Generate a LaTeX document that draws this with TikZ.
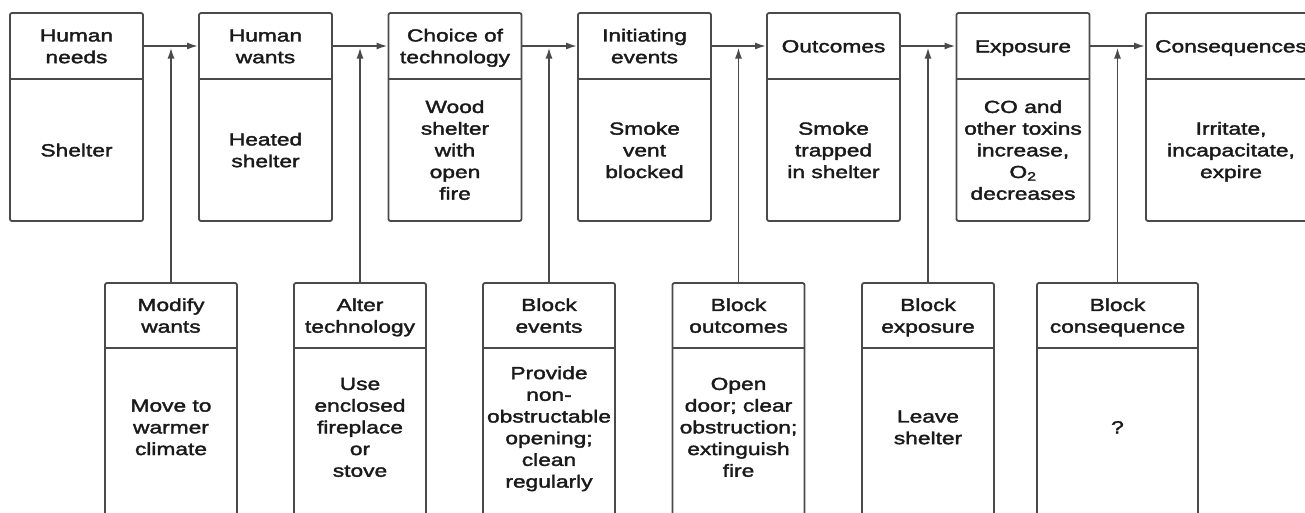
\documentclass[tikz,border=0pt]{standalone}
\usepackage{fontspec}
\setmainfont[FakeStretch=1.3,FakeBold=2]{Liberation Sans}
\usetikzlibrary{arrows.meta}
\definecolor{linegray}{HTML}{4A4A4A}
\definecolor{txtcol}{HTML}{1A1A1A}
\tikzset{
  outer/.style={draw=linegray, line width=1.8pt, rounded corners=2pt, rectangle, inner sep=0pt},
  txt/.style={align=center, text=txtcol, inner sep=0pt, font=\fontsize{17.5}{21.7}\selectfont},
  divider/.style={draw=linegray, line width=1.8pt},
  arr/.style={draw=linegray, line width=1.8pt, -{Latex[length=11pt,width=7pt]}},
}
\newcommand\TopBox[5]{% name, center x, width, header, body
  \node[outer, minimum width=#3pt, minimum height=208pt] (#1) at (#2,117) {};
  \node[txt] (#1h) at (#2,48) {\strut#4\strut};
  \node[txt] (#1b) at (#2,152) {\strut#5\strut};
  \draw[divider] (#1.west |- 0,79) -- (#1.east |- 0,79);
}
\newcommand\BotBox[5]{% name, center x, width, header, body
  \node[outer, minimum width=#3pt, minimum height=277pt] (#1) at (#2,421.5) {};
  \node[txt] (#1h) at (#2,317.5) {\strut#4\strut};
  \node[txt] (#1b) at (#2,429) {\strut#5\strut};
  \draw[divider] (#1.west |- 0,348) -- (#1.east |- 0,348);
}
\begin{document}
\begin{tikzpicture}[x=1pt, y=-1pt]
\useasboundingbox (0,0) rectangle (1305,512);
\clip (0,0) rectangle (1305,512);
\fill[white] (0,0) rectangle (1305,512);
\coordinate (arrowrow) at (0,46);
% top row
\TopBox{t1}{76.5}{133}{Human\\needs}{Shelter}
\TopBox{t2}{265.5}{133}{Human\\wants}{Heated\\shelter}
\TopBox{t3}{455}{133}{Choice of\\technology}{Wood\\shelter\\with\\open\\fire}
\TopBox{t4}{644.5}{133}{Initiating\\events}{Smoke\\vent\\blocked}
\TopBox{t5}{833.5}{133}{Outcomes}{Smoke\\trapped\\in shelter}
\TopBox{t6}{1023}{133}{Exposure}{CO and\\other toxins\\increase,\\O\textsubscript{2}\\decreases}
\TopBox{t7}{1231}{170}{Consequences}{Irritate,\\incapacitate,\\expire}
% bottom row
\BotBox{b1}{171}{132}{Modify\\wants}{Move to\\warmer\\climate}
\BotBox{b2}{360}{132}{Alter\\technology}{Use\\enclosed\\fireplace\\or\\stove}
\BotBox{b3}{549}{132}{Block\\events}{Provide\\non-\\obstructable\\opening;\\clean\\regularly}
\BotBox{b4}{738.5}{132}{Block\\outcomes}{Open\\door; clear\\obstruction;\\extinguish\\fire}
\BotBox{b5}{928}{132}{Block\\exposure}{Leave\\shelter}
\BotBox{b6}{1117.5}{161}{Block\\consequence}{?}
% horizontal arrows
\draw[arr] (t1.east |- arrowrow) -- (t2.west |- arrowrow);
\draw[arr] (t2.east |- arrowrow) -- (t3.west |- arrowrow);
\draw[arr] (t3.east |- arrowrow) -- (t4.west |- arrowrow);
\draw[arr] (t4.east |- arrowrow) -- (t5.west |- arrowrow);
\draw[arr] (t5.east |- arrowrow) -- (t6.west |- arrowrow);
\draw[arr] (t6.east |- arrowrow) -- (t7.west |- arrowrow);
% vertical arrows
\draw[arr, shorten >=1.5pt] (b1.north) -- (b1.north |- arrowrow);
\draw[arr, shorten >=1.5pt] (b2.north) -- (b2.north |- arrowrow);
\draw[arr, shorten >=1.5pt] (b3.north) -- (b3.north |- arrowrow);
\draw[arr, shorten >=1.5pt] (b4.north) -- (b4.north |- arrowrow);
\draw[arr, shorten >=1.5pt] (b5.north) -- (b5.north |- arrowrow);
\draw[arr, shorten >=1.5pt] (b6.north) -- (b6.north |- arrowrow);
\end{tikzpicture}
\end{document}
